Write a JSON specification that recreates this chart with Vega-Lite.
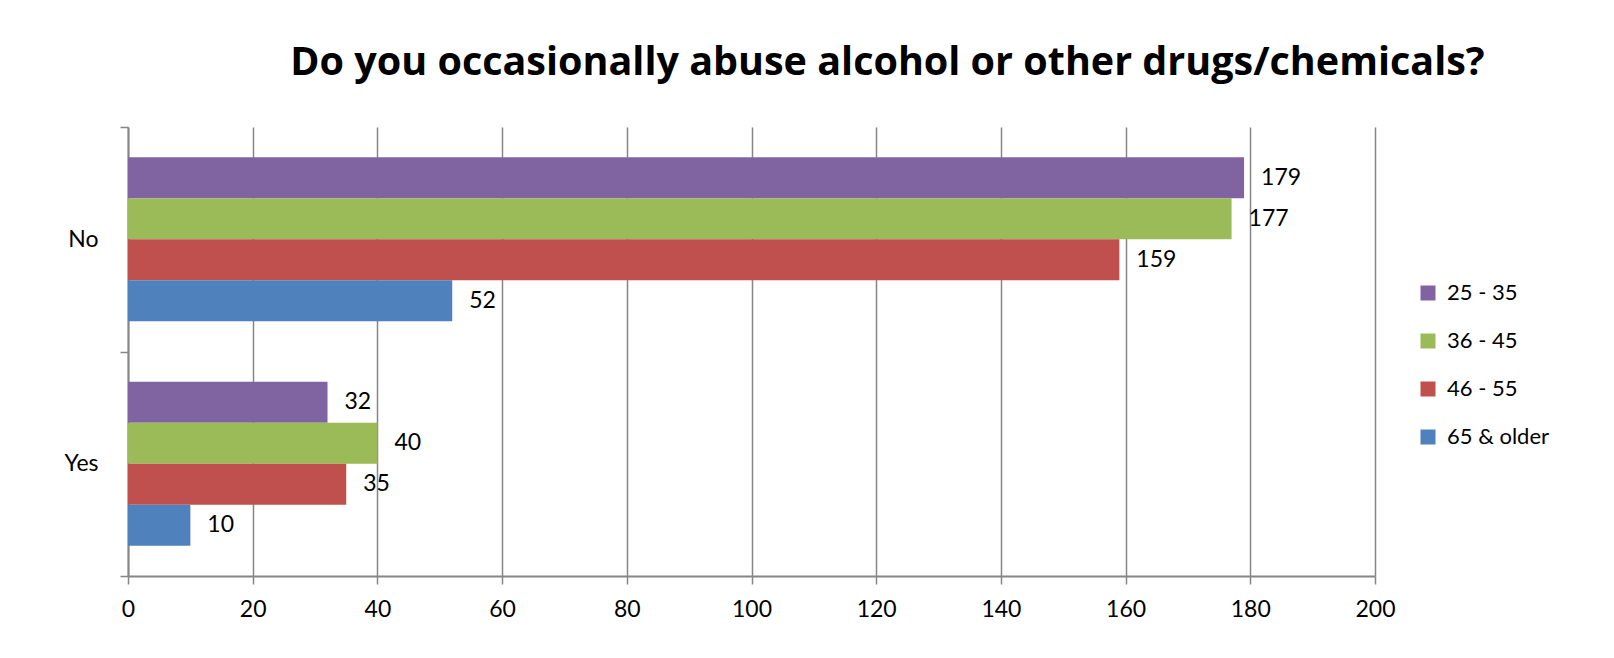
{
  "$schema": "https://vega.github.io/schema/vega-lite/v6.json",
  "autosize": {"type": "none"},
  "width": 1247,
  "height": 449,
  "padding": {"left": 128, "top": 127, "right": 239, "bottom": 82},
  "background": "white",
  "title": {
    "text": "Do you occasionally abuse alcohol or other drugs/chemicals?",
    "font": "Open Sans",
    "fontSize": 39.5,
    "fontWeight": "bold",
    "color": "black",
    "anchor": "middle",
    "frame": "group",
    "dx": 136,
    "baseline": "alphabetic",
    "offset": 2
  },
  "data": {
    "values": [
      {"answer": "No", "age": "25 - 35", "count": 179},
      {"answer": "No", "age": "36 - 45", "count": 177},
      {"answer": "No", "age": "46 - 55", "count": 159},
      {"answer": "No", "age": "65 & older", "count": 52},
      {"answer": "Yes", "age": "25 - 35", "count": 32},
      {"answer": "Yes", "age": "36 - 45", "count": 40},
      {"answer": "Yes", "age": "46 - 55", "count": 35},
      {"answer": "Yes", "age": "65 & older", "count": 10}
    ]
  },
  "encoding": {
    "y": {
      "field": "answer", "type": "nominal", "sort": ["No", "Yes"],
      "scale": {"paddingInner": 0, "paddingOuter": 0},
      "axis": {
        "title": null, "tickBand": "extent", "labelFont": "Lato", "labelFontSize": 23,
        "labelColor": "black", "labelPadding": 22, "tickSize": 8, "tickColor": "#868686",
        "tickWidth": 1.5, "domainColor": "#868686", "domainWidth": 2, "grid": false
      }
    },
    "yOffset": {
      "field": "age", "type": "nominal",
      "sort": ["25 - 35", "36 - 45", "46 - 55", "65 & older"],
      "scale": {"paddingInner": 0, "paddingOuter": 0.738}
    },
    "x": {
      "field": "count", "type": "quantitative",
      "scale": {"domain": [0, 200], "nice": false},
      "axis": {
        "title": null, "values": [0, 20, 40, 60, 80, 100, 120, 140, 160, 180, 200],
        "grid": true, "gridColor": "#868686", "gridWidth": 1.5,
        "domainColor": "#868686", "domainWidth": 2, "tickColor": "#868686", "tickWidth": 1.5,
        "tickSize": 8, "labelFont": "Lato", "labelFontSize": 23, "labelColor": "black",
        "labelPadding": 14, "labelFlush": false
      }
    }
  },
  "layer": [
    {
      "mark": {"type": "bar"},
      "encoding": {
        "color": {
          "field": "age", "type": "nominal",
          "sort": ["25 - 35", "36 - 45", "46 - 55", "65 & older"],
          "scale": {"range": ["#8064A2", "#9BBB59", "#C0504D", "#4F81BD"]},
          "legend": {
            "title": null, "orient": "none", "legendX": 1289, "legendY": 155,
            "symbolType": "square", "symbolSize": 225, "symbolStrokeWidth": 0,
            "labelFont": "Lato", "labelFontSize": 22, "labelColor": "black",
            "labelOffset": 8, "rowPadding": 26, "padding": 0
          }
        }
      }
    },
    {
      "mark": {"type": "text", "align": "left", "baseline": "middle", "dx": 17, "font": "Lato", "fontSize": 23, "color": "black"},
      "encoding": {"text": {"field": "count", "type": "quantitative"}}
    }
  ],
  "config": {"view": {"stroke": null}}
}
